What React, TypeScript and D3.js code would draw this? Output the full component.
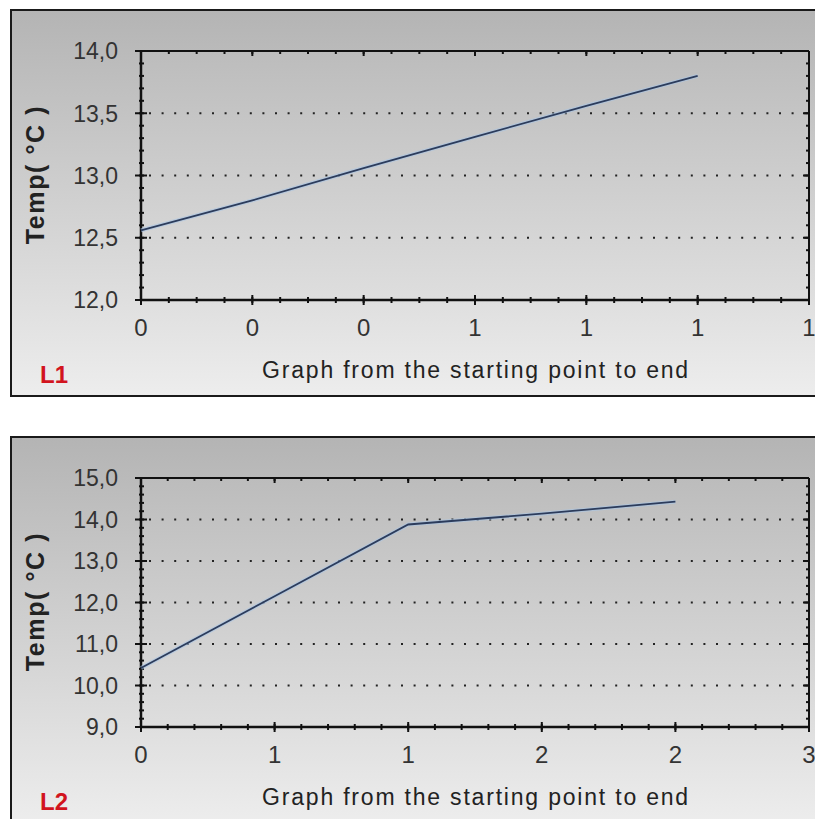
import React, { useEffect, useRef } from 'react';
import * as d3 from 'd3';

// L1 readings
const l1Position = [0, 0.2, 0.4, 0.6, 0.8, 1.0];
const l1Temp = [12.56, 12.8, 13.06, 13.31, 13.56, 13.8];
const l1XTicks = [0, 0.2, 0.4, 0.6, 0.8, 1.0, 1.2];
const l1YTicks = [12.0, 12.5, 13.0, 13.5, 14.0];

// L2 readings
const l2Position = [0, 0.5, 1.0, 1.5, 2.0];
const l2Temp = [10.42, 12.15, 13.88, 14.14, 14.43];
const l2XTicks = [0, 0.5, 1.0, 1.5, 2.0, 2.5];
const l2YTicks = [9, 10, 11, 12, 13, 14, 15];

const W = 815;
const H = 819;
const PANEL_H = 386;
const FONT = '"Liberation Sans", Arial, sans-serif';

const comma = d3.formatLocale({ decimal: ',', thousands: '.', grouping: [3], currency: ['', ''] });
const fmtY = comma.format('.1f');
const fmtX = d3.format('.0f');

type PanelProps = {
  top: number;
  name: string;
  xs: number[];
  ys: number[];
  xTicks: number[];
  yTicks: number[];
  xMinor: number;
  yMinor: number;
  gid: string;
};

const Panel = ({ top, name, xs, ys, xTicks, yTicks, xMinor, yMinor, gid }: PanelProps) => {
  const ref = useRef<SVGGElement>(null);

  useEffect(() => {
    const g = d3.select(ref.current);
    g.selectAll('*').remove();

    const left = 141, right = 809, pTop = 41, pBottom = 290;
    const x = d3.scaleLinear().domain([xTicks[0], xTicks[xTicks.length - 1]]).range([left, right]);
    const y = d3.scaleLinear().domain([yTicks[0], yTicks[yTicks.length - 1]]).range([pBottom, pTop]);

    const defs = g.append('defs');
    const pg = defs.append('linearGradient').attr('id', gid + 'p').attr('x1', 0).attr('y1', 0).attr('x2', 0).attr('y2', 1);
    pg.append('stop').attr('offset', '0%').attr('stop-color', '#b4b4b4');
    pg.append('stop').attr('offset', '100%').attr('stop-color', '#ededed');
    const ag = defs.append('linearGradient').attr('id', gid + 'a').attr('x1', 0).attr('y1', 0).attr('x2', 0).attr('y2', 1);
    ag.append('stop').attr('offset', '0%').attr('stop-color', '#bcbcbc');
    ag.append('stop').attr('offset', '100%').attr('stop-color', '#dedede');

    // panel frame
    g.append('rect').attr('x', 11).attr('y', 0).attr('width', W - 11 + 4).attr('height', PANEL_H)
      .attr('fill', `url(#${gid}p)`).attr('stroke', '#1a1a1a').attr('stroke-width', 2);

    // plot area
    g.append('rect').attr('x', left).attr('y', pTop).attr('width', right - left).attr('height', pBottom - pTop)
      .attr('fill', `url(#${gid}a)`);

    // dotted grid
    g.selectAll('.grid').data(yTicks.slice(1, -1)).enter().append('line')
      .attr('x1', left + 8).attr('x2', right - 2)
      .attr('y1', d => y(d)).attr('y2', d => y(d))
      .attr('stroke', '#222').attr('stroke-width', 2).attr('stroke-dasharray', '2 10.6');

    // minor ticks
    const xm = d3.range(xTicks[0], xTicks[xTicks.length - 1] + 1e-9, xMinor);
    const ym = d3.range(yTicks[0], yTicks[yTicks.length - 1] + 1e-9, yMinor);
    const tick = (x1: number, y1: number, x2: number, y2: number, w = 2) =>
      g.append('line').attr('x1', x1).attr('y1', y1).attr('x2', x2).attr('y2', y2)
        .attr('stroke', '#111').attr('stroke-width', w);

    xm.forEach(v => {
      tick(x(v), pBottom - 3, x(v), pBottom + 3);
      tick(x(v), pTop, x(v), pTop + 3);
    });
    ym.forEach(v => {
      tick(left - 2, y(v), left + 3, y(v));
      tick(right - 3, y(v), right, y(v));
    });
    xTicks.forEach(v => {
      tick(x(v), pBottom - 5, x(v), pBottom + 5);
      tick(x(v), pTop, x(v), pTop + 5);
    });
    yTicks.forEach(v => {
      tick(left - 6, y(v), left + 6, y(v));
      tick(right - 6, y(v), right, y(v));
    });

    // axes frame
    tick(left, pTop, right, pTop, 2);
    tick(right, pTop, right, pBottom, 2);
    tick(left, pTop, left, pBottom, 2.5);
    tick(left, pBottom, right, pBottom, 2.5);

    // data line
    const line = d3.line<number>().x((_, i) => x(xs[i])).y(d => y(d));
    g.append('path').attr('d', line(ys) || '').attr('fill', 'none')
      .attr('stroke', '#a8c4e4').attr('stroke-width', 4).attr('stroke-opacity', 0.6);
    g.append('path').attr('d', line(ys) || '').attr('fill', 'none')
      .attr('stroke', '#2c3c5c').attr('stroke-width', 1.8);

    // tick labels
    g.selectAll('.yl').data(yTicks).enter().append('text')
      .attr('x', 118).attr('y', d => y(d)).attr('dy', '0.36em')
      .attr('text-anchor', 'end').attr('font-family', FONT).attr('font-size', 23).attr('fill', '#333')
      .text(d => fmtY(d));
    g.selectAll('.xl').data(xTicks).enter().append('text')
      .attr('x', d => x(d)).attr('y', 326)
      .attr('text-anchor', 'middle').attr('font-family', FONT).attr('font-size', 24).attr('fill', '#333')
      .text(d => fmtX(d));

    // titles
    g.append('text').attr('x', 476).attr('y', 368).attr('text-anchor', 'middle')
      .attr('font-family', FONT).attr('font-size', 23).attr('letter-spacing', 1.8).attr('fill', '#222')
      .text('Graph from the starting point to end');
    g.append('text').attr('transform', `translate(44,${(pTop + pBottom) / 2 - 1}) rotate(-90)`)
      .attr('text-anchor', 'middle').attr('font-family', FONT).attr('font-size', 25)
      .attr('letter-spacing', 1.6).attr('font-weight', 'bold').attr('fill', '#222')
      .text('Temp( °C )');
    g.append('text').attr('x', 40).attr('y', 373)
      .attr('font-family', FONT).attr('font-size', 24).attr('font-weight', 'bold').attr('fill', '#d2141e')
      .text(name);
  }, [top, name, xs, ys, xTicks, yTicks, xMinor, yMinor, gid]);

  return <g ref={ref} transform={`translate(0,${top})`} />;
};

export default function App() {
  return (
    <svg width={W} height={H} style={{ position: 'absolute', left: 0, top: 0, background: '#fff' }}>
      <Panel top={10} name="L1" xs={l1Position} ys={l1Temp} xTicks={l1XTicks} yTicks={l1YTicks}
        xMinor={0.05} yMinor={0.1} gid="g1" />
      <Panel top={437} name="L2" xs={l2Position} ys={l2Temp} xTicks={l2XTicks} yTicks={l2YTicks}
        xMinor={0.1} yMinor={0.2} gid="g2" />
    </svg>
  );
}
